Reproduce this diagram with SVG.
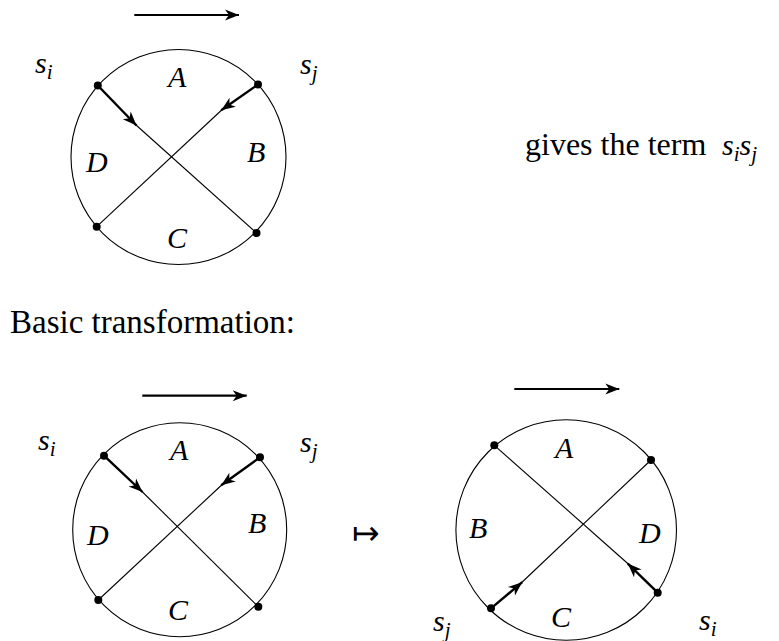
<svg xmlns="http://www.w3.org/2000/svg" width="779" height="641" viewBox="0 0 779 641">
<defs>
<marker id="head" markerUnits="userSpaceOnUse" viewBox="-16 -8 17 16" refX="0" refY="0" markerWidth="17" markerHeight="16" orient="auto">
<path d="M0,0 L-14,-5.5 L-10,0 L-14,5.5 Z" fill="#000"/>
</marker>
</defs>
<g id="diagram-top">
<line x1="134.3" y1="15" x2="239" y2="15" stroke="#000" stroke-width="2.2" marker-end="url(#head)"/>
<circle cx="178.5" cy="157" r="107.5" fill="none" stroke="#000" stroke-width="1.1"/>
<g id="connectors-top" stroke="#000" fill="none">
<line x1="136" y1="125" x2="256.5" y2="233" stroke-width="1.1"/>
<line x1="221.7" y1="110" x2="96.7" y2="226.7" stroke-width="1.1"/>
<line x1="97.8" y1="85.5" x2="136.5" y2="125.5" stroke-width="2.4" marker-end="url(#head)"/>
<line x1="258" y1="84.5" x2="221.2" y2="110.2" stroke-width="2.4" marker-end="url(#head)"/>
</g>
<g fill="#000">
<circle cx="97.8" cy="85.5" r="4"/>
<circle cx="258" cy="84.5" r="4"/>
<circle cx="96.7" cy="226.7" r="4"/>
<circle cx="256.5" cy="233" r="4"/>
</g>
</g>
<g id="diagram-left">
<line x1="142.3" y1="395.7" x2="246.7" y2="395.7" stroke="#000" stroke-width="2.2" marker-end="url(#head)"/>
<circle cx="179.7" cy="529.7" r="107" fill="none" stroke="#000" stroke-width="1.1"/>
<g id="connectors-left" stroke="#000" fill="none">
<line x1="142" y1="491.5" x2="258.3" y2="606.7" stroke-width="1.1"/>
<line x1="221.7" y1="485" x2="98.3" y2="600" stroke-width="1.1"/>
<line x1="104" y1="455.7" x2="142.5" y2="492" stroke-width="2.4" marker-end="url(#head)"/>
<line x1="260" y1="457.3" x2="221.2" y2="485.3" stroke-width="2.4" marker-end="url(#head)"/>
</g>
<g fill="#000">
<circle cx="104" cy="455.7" r="4"/>
<circle cx="260" cy="457.3" r="4"/>
<circle cx="98.3" cy="600" r="4"/>
<circle cx="258.3" cy="606.7" r="4"/>
</g>
</g>
<g id="diagram-right">
<line x1="514.3" y1="389" x2="619.3" y2="389" stroke="#000" stroke-width="2.2" marker-end="url(#head)"/>
<circle cx="566.2" cy="530" r="110.3" fill="none" stroke="#000" stroke-width="1.1"/>
<g id="connectors-right" stroke="#000" fill="none">
<line x1="494.3" y1="445.3" x2="628.3" y2="564" stroke-width="1.1"/>
<line x1="651" y1="460" x2="521.7" y2="582.5" stroke-width="1.1"/>
<line x1="491" y1="608.3" x2="522.2" y2="582.2" stroke-width="2.4" marker-end="url(#head)"/>
<line x1="657.7" y1="592.7" x2="627.8" y2="563.6" stroke-width="2.4" marker-end="url(#head)"/>
</g>
<g fill="#000">
<circle cx="494.3" cy="445.3" r="4"/>
<circle cx="651" cy="460" r="4"/>
<circle cx="491" cy="608.3" r="4"/>
<circle cx="657.7" cy="592.7" r="4"/>
</g>
</g>
<text x="35" y="73" font-family="Liberation Serif" font-style="italic" font-size="30">s<tspan font-size="21" dy="6">i</tspan></text>
<text x="300" y="74" font-family="Liberation Serif" font-style="italic" font-size="30">s<tspan font-size="21" dy="6">j</tspan></text>
<text x="168" y="87" font-family="Liberation Serif" font-style="italic" font-size="30">A</text>
<text x="247" y="162" font-family="Liberation Serif" font-style="italic" font-size="30">B</text>
<text x="167" y="248" font-family="Liberation Serif" font-style="italic" font-size="30">C</text>
<text x="86" y="172" font-family="Liberation Serif" font-style="italic" font-size="30">D</text>
<text x="525" y="155" font-family="Liberation Serif" font-size="32">gives the term</text>
<text x="722" y="155" font-family="Liberation Serif" font-style="italic" font-size="30">s<tspan font-size="21" dy="6">i</tspan><tspan dy="-6">s</tspan><tspan font-size="21" dy="6">j</tspan></text>
<text x="10" y="333" font-family="Liberation Serif" font-size="33">Basic transformation:</text>
<text x="38" y="450" font-family="Liberation Serif" font-style="italic" font-size="30">s<tspan font-size="21" dy="6">i</tspan></text>
<text x="300" y="452" font-family="Liberation Serif" font-style="italic" font-size="30">s<tspan font-size="21" dy="6">j</tspan></text>
<text x="170" y="460" font-family="Liberation Serif" font-style="italic" font-size="30">A</text>
<text x="248" y="533" font-family="Liberation Serif" font-style="italic" font-size="30">B</text>
<text x="168" y="620" font-family="Liberation Serif" font-style="italic" font-size="30">C</text>
<text x="87" y="545" font-family="Liberation Serif" font-style="italic" font-size="30">D</text>
<text x="352" y="544" font-family="DejaVu Sans" font-size="33">↦</text>
<text x="555" y="458" font-family="Liberation Serif" font-style="italic" font-size="30">A</text>
<text x="469" y="538" font-family="Liberation Serif" font-style="italic" font-size="30">B</text>
<text x="551" y="627" font-family="Liberation Serif" font-style="italic" font-size="30">C</text>
<text x="639" y="543" font-family="Liberation Serif" font-style="italic" font-size="30">D</text>
<text x="433" y="631" font-family="Liberation Serif" font-style="italic" font-size="30">s<tspan font-size="21" dy="6">j</tspan></text>
<text x="699" y="630" font-family="Liberation Serif" font-style="italic" font-size="30">s<tspan font-size="21" dy="6">i</tspan></text>
</svg>
